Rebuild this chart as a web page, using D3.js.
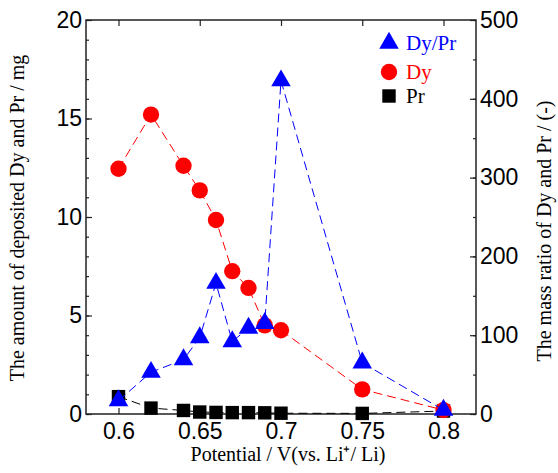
<!DOCTYPE html>
<html>
<head>
<meta charset="utf-8">
<script src="https://cdn.jsdelivr.net/npm/d3@7"></script>
<style>
  body { margin: 0; background: #fff; }
  svg { display: block; }
  .tick text { font-family: "Liberation Sans", Arial, sans-serif; font-size: 23px; fill: #000; }
  .axis-title { font-family: "Liberation Serif", "Times New Roman", serif; font-size: 20px; fill: #000; }
  .legend text { font-family: "Liberation Serif", "Times New Roman", serif; font-size: 21px; }
</style>
</head>
<body>
<svg id="chart" width="558" height="473"></svg>
<script>
// Data
const potential = [0.6, 0.62, 0.64, 0.65, 0.66, 0.67, 0.68, 0.69, 0.7, 0.75, 0.8];
const dyMass = [12.45, 15.2, 12.6, 11.35, 9.85, 7.25, 6.4, 4.5, 4.25, 1.25, 0.2];
const prMass = [0.88, 0.3, 0.18, 0.1, 0.08, 0.07, 0.07, 0.06, 0.04, 0.03, 0.15];
const ratio = [17, 53, 69, 97, 166, 92, 109, 115, 423, 65, 5];
const xTicks = [0.6, 0.65, 0.7, 0.75, 0.8];
const leftTicks = [0, 5, 10, 15, 20];
const rightTicks = [0, 100, 200, 300, 400, 500];
const legendLabels = ['Dy/Pr', 'Dy', 'Pr'];

const svg = d3.select('#chart');
const plotLeft = 86, plotRight = 476, plotTop = 20, plotBottom = 414;

const x = d3.scaleLinear().domain([0.58, 0.82]).range([plotLeft, plotRight]);
const yL = d3.scaleLinear().domain([0, 20]).range([plotBottom, plotTop]);
const yR = d3.scaleLinear().domain([0, 500]).range([plotBottom, plotTop]);

const axisColor = '#222';

function styleAxis(g) {
    g.select('.domain').remove();
    g.selectAll('.tick line').attr('stroke', axisColor).attr('stroke-width', 1.2);
}

// minor ticks
svg.append('g').attr('transform', `translate(${plotLeft},0)`)
    .call(d3.axisLeft(yL).tickValues(d3.range(0, 21, 1)).tickFormat('').tickSize(-3))
    .call(styleAxis);
svg.append('g').attr('transform', `translate(${plotRight},0)`)
    .call(d3.axisRight(yR).tickValues(d3.range(0, 501, 50)).tickFormat('').tickSize(-3))
    .call(styleAxis);

// major ticks
svg.append('g').attr('transform', `translate(0,${plotBottom})`)
    .call(d3.axisBottom(x).tickValues(xTicks).tickFormat(d3.format('')).tickSize(-6).tickPadding(9))
    .call(styleAxis);
svg.append('g').attr('transform', `translate(0,${plotTop})`)
    .call(d3.axisTop(x).tickValues(xTicks).tickFormat('').tickSize(-6))
    .call(styleAxis);
svg.append('g').attr('transform', `translate(${plotLeft},0)`)
    .call(d3.axisLeft(yL).tickValues(leftTicks).tickSize(-6).tickPadding(4))
    .call(styleAxis);
svg.append('g').attr('transform', `translate(${plotRight},0)`)
    .call(d3.axisRight(yR).tickValues(rightTicks).tickSize(-6).tickPadding(4))
    .call(styleAxis);

// frame
svg.append('rect')
    .attr('x', plotLeft).attr('y', plotTop)
    .attr('width', plotRight - plotLeft).attr('height', plotBottom - plotTop)
    .attr('fill', 'none').attr('stroke', axisColor).attr('stroke-width', 1.5);

// series
const series = [
    { values: prMass, y: yL, color: '#000', symbol: d3.symbolSquare, size: 180 },
    { values: dyMass, y: yL, color: '#ff0000', symbol: d3.symbolCircle, size: 210 },
    { values: ratio, y: yR, color: '#0000ff', symbol: d3.symbolTriangle, size: 165 }
];

series.forEach(s => {
    const pts = potential.map((p, i) => [p, s.values[i]]);
    svg.append('path')
        .datum(pts)
        .attr('fill', 'none')
        .attr('stroke', s.color)
        .attr('stroke-width', 1)
        .attr('stroke-dasharray', '9,5')
        .attr('d', d3.line().x(d => x(d[0])).y(d => s.y(d[1])));
    svg.append('g').selectAll('path')
        .data(pts)
        .enter()
        .append('path')
        .attr('transform', d => `translate(${x(d[0])},${s.y(d[1])})`)
        .attr('d', d3.symbol().type(s.symbol).size(s.size))
        .attr('fill', s.color);
});

// legend
const legendItems = [
    { label: legendLabels[0], color: '#0000ff', symbol: d3.symbolTriangle, size: 165, y: 43 },
    { label: legendLabels[1], color: '#ff0000', symbol: d3.symbolCircle, size: 210, y: 72 },
    { label: legendLabels[2], color: '#000', symbol: d3.symbolSquare, size: 180, y: 96 }
];
const legend = svg.append('g').attr('class', 'legend');
legendItems.forEach(d => {
    legend.append('path')
        .attr('transform', `translate(389,${d.y})`)
        .attr('d', d3.symbol().type(d.symbol).size(d.size))
        .attr('fill', d.color);
    legend.append('text')
        .attr('x', 406).attr('y', d.y + 7)
        .attr('fill', d.color)
        .text(d.label);
});

// axis titles
svg.append('text').attr('class', 'axis-title')
    .attr('transform', `translate(24,218) rotate(-90)`)
    .attr('text-anchor', 'middle')
    .text('The amount of deposited Dy and Pr / mg');
svg.append('text').attr('class', 'axis-title')
    .attr('transform', `translate(551,231) rotate(-90)`)
    .attr('text-anchor', 'middle')
    .text('The mass ratio of Dy and Pr / (-)');
svg.append('text').attr('class', 'axis-title')
    .attr('x', 288).attr('y', 461)
    .attr('text-anchor', 'middle')
    .text('Potential / V(vs. Li\u207A/ Li)');
</script>
</body>
</html>
